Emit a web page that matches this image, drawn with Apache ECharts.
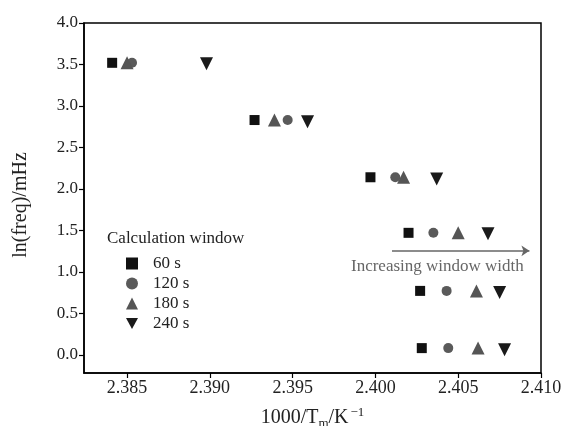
<!DOCTYPE html>
<html>
<head>
<meta charset="utf-8">
<script src="https://cdn.jsdelivr.net/npm/echarts@6/dist/echarts.min.js"></script>
<style>html,body{margin:0;padding:0;background:#fff;}#c{width:563px;height:426px;}</style>
</head>
<body>
<div id="c"></div>
<script>
var seriesNames = ['60 s', '120 s', '180 s', '240 s'];
var lnFreq = [3.52, 2.83, 2.14, 1.47, 0.77, 0.08];
var x60  = [2.3841, 2.3927, 2.3997, 2.4020, 2.4027, 2.4028];
var x120 = [2.3853, 2.3947, 2.4012, 2.4035, 2.4043, 2.4044];
var x180 = [2.3850, 2.3939, 2.4017, 2.4050, 2.4061, 2.4062];
var x240 = [2.3898, 2.3959, 2.4037, 2.4068, 2.4075, 2.4078];
var y240 = [3.51, 2.81, 2.12, 1.46, 0.75, 0.06];
var xTicks = [2.385, 2.390, 2.395, 2.400, 2.405, 2.410];
var yTicks = [0.0, 0.5, 1.0, 1.5, 2.0, 2.5, 3.0, 3.5, 4.0];

function pairs(xs, ys) { return xs.map(function (v, i) { return [v, ys[i]]; }); }

var font = '"Liberation Serif", "DejaVu Serif", serif';
var chart = echarts.init(document.getElementById('c'));
var styles = [
  { symbol: 'rect', size: 10, color: '#111', rotate: 0, icon: 'rect' },
  { symbol: 'circle', size: 10, color: '#5a5a5a', rotate: 0, icon: 'circle' },
  { symbol: 'triangle', size: 13, color: '#555', rotate: 0, icon: 'triangle' },
  { symbol: 'triangle', size: 13, color: '#1a1a1a', rotate: 180, icon: 'path://M0,0 L10,0 L5,9 Z' }
];
var dataSets = [pairs(x60, lnFreq), pairs(x120, lnFreq), pairs(x180, lnFreq), pairs(x240, y240)];
var series = dataSets.map(function (d, i) {
  return {
    name: seriesNames[i], type: 'scatter', data: d,
    symbol: styles[i].symbol, symbolSize: styles[i].size, symbolRotate: styles[i].rotate,
    itemStyle: { color: styles[i].color, opacity: 1 }, z: 3
  };
});
series.push({
  type: 'line', data: [], silent: true,
  markLine: {
    silent: true, symbol: ['none', 'arrow'], symbolSize: 8,
    label: { show: false },
    lineStyle: { color: '#666', width: 1.5, type: 'solid' },
    data: [[{ coord: [2.4010, 1.253] }, { coord: [2.4093, 1.253] }]]
  }
});

chart.setOption({
  animation: false,
  backgroundColor: '#fff',
  grid: { left: 84, right: 22, top: 23, bottom: 53, show: true, borderColor: '#000', borderWidth: 1.5,
    outerBoundsMode: 'none', containLabel: false },
  xAxis: {
    type: 'value', min: 2.3824, max: 2.410, interval: 0.005,
    splitLine: { show: false },
    axisLine: { onZero: false, lineStyle: { color: '#000', width: 1.5 } },
    axisTick: { show: true, inside: false, length: 5, lineStyle: { color: '#000', width: 1.2 }, customValues: xTicks },
    axisLabel: { color: '#222', fontFamily: font, fontSize: 18, margin: 6, customValues: xTicks,
      formatter: function (v) { return v.toFixed(3); } },
    name: '{a|1000/T}{s|m}{a|/K}{p|−1}',
    nameLocation: 'middle', nameGap: 34,
    nameTextStyle: {
      rich: {
        a: { fontFamily: font, fontSize: 20, color: '#222', lineHeight: 22 },
        s: { fontFamily: font, fontSize: 13, color: '#222', lineHeight: 22, padding: [11, 0, 0, 0] },
        p: { fontFamily: font, fontSize: 13, color: '#222', lineHeight: 22, padding: [0, 0, 11, 2] }
      }
    }
  },
  yAxis: {
    type: 'value', min: -0.22, max: 4.0,
    splitLine: { show: false },
    axisLine: { onZero: false, lineStyle: { color: '#000', width: 1.5 } },
    axisTick: { show: true, inside: false, length: 5, lineStyle: { color: '#000', width: 1.2 }, customValues: yTicks },
    axisLabel: { color: '#222', fontFamily: font, fontSize: 17, margin: 6, customValues: yTicks,
      formatter: function (v) { return v.toFixed(1); } }
  },
  legend: {
    orient: 'vertical', left: 121, top: 250, itemWidth: 12, itemHeight: 12, itemGap: 3,
    textStyle: { fontFamily: font, fontSize: 17, color: '#222', padding: [0, 0, 0, 10] },
    data: seriesNames.map(function (n, i) { return { name: n, icon: styles[i].icon }; })
  },
  graphic: [
    { type: 'text', x: 21, y: 205, rotation: Math.PI / 2,
      style: { text: 'ln(freq)/mHz', font: '20px ' + font, fill: '#222', align: 'center', verticalAlign: 'middle' } },
    { type: 'text', left: 107, top: 230, style: { text: 'Calculation window', font: '17px ' + font, fill: '#222' } },
    { type: 'text', left: 351, top: 258, style: { text: 'Increasing window width', font: '17px ' + font, fill: '#666' } }
  ],
  series: series
});
</script>
</body>
</html>
